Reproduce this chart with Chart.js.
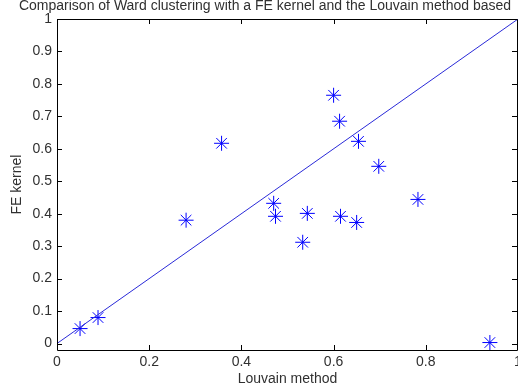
<!DOCTYPE html>
<html>
<head>
<meta charset="utf-8">
<script src="https://cdn.jsdelivr.net/npm/chart.js@4/dist/chart.umd.min.js"></script>
<style>
  html, body { margin: 0; padding: 0; background: #fff; }
  canvas { display: block; }
</style>
</head>
<body>
<canvas id="c" width="518" height="388"></canvas>
<script>
// data
const louvain  = [0.050, 0.089, 0.280, 0.357, 0.470, 0.474, 0.543, 0.533, 0.600, 0.613, 0.615, 0.650, 0.654, 0.698, 0.783, 0.939];
const feKernel = [0.046, 0.080, 0.380, 0.617, 0.432, 0.392, 0.401, 0.312, 0.765, 0.685, 0.392, 0.373, 0.623, 0.546, 0.444, 0.003];
const diagonalX = [0, 1];
const diagonalY = [0, 1];
const xTicks = [0, 0.2, 0.4, 0.6, 0.8, 1];
const yTicks = [0, 0.1, 0.2, 0.3, 0.4, 0.5, 0.6, 0.7, 0.8, 0.9, 1];
const titleText = 'Comparison of Ward clustering with a FE kernel and the Louvain method based';
const xLabel = 'Louvain method';
const yLabel = 'FE kernel';

const FONT = "'Liberation Sans', Arial, sans-serif";
Chart.defaults.font.family = FONT;
Chart.defaults.font.size = 14;
Chart.defaults.color = '#303030';

// matlab style box with inward ticks on all sides
const boxPlugin = {
    id: 'boxPlugin',
    afterDraw(chart) {
        const ctx = chart.ctx;
        const a = chart.chartArea;
        const xs = chart.scales.x, ys = chart.scales.y;
        const len = 5;
        const right = Math.min(a.right, chart.width) - 1;
        ctx.save();
        ctx.strokeStyle = '#000';
        ctx.lineWidth = 1;
        ctx.beginPath();
        ctx.rect(Math.round(a.left) + 0.5, Math.round(a.top) + 0.5,
                 Math.round(right - a.left), Math.round(a.bottom - a.top));
        xTicks.forEach(v => {
            const px = Math.round(xs.getPixelForValue(v)) + 0.5;
            ctx.moveTo(px, a.bottom); ctx.lineTo(px, a.bottom - len);
            ctx.moveTo(px, a.top); ctx.lineTo(px, a.top + len);
        });
        yTicks.forEach(v => {
            const py = Math.round(ys.getPixelForValue(v)) + 0.5;
            ctx.moveTo(a.left, py); ctx.lineTo(a.left + len, py);
            ctx.moveTo(right, py); ctx.lineTo(right - len, py);
        });
        ctx.stroke();

        // title
        ctx.fillStyle = '#303030';
        ctx.font = '14px ' + FONT;
        ctx.textAlign = 'center';
        ctx.textBaseline = 'middle';
        ctx.fillText(titleText, 265, 6);
        ctx.restore();
    }
};

new Chart(document.getElementById('c'), {
    type: 'scatter',
    data: {
        datasets: [{
            type: 'line',
            data: diagonalX.map((x, i) => ({ x: x, y: diagonalY[i] })),
            borderColor: '#2a2ad8',
            borderWidth: 1,
            pointRadius: 0,
            fill: false
        }, {
            data: louvain.map((x, i) => ({ x: x, y: feKernel[i] })),
            pointStyle: 'star',
            pointRadius: 7.5,
            borderColor: '#0000ff',
            backgroundColor: '#0000ff',
            borderWidth: 1,
            clip: false
        }]
    },
    options: {
        responsive: false,
        animation: false,
        events: [],
        layout: { autoPadding: false, padding: { top: 19, right: 0, left: 0, bottom: 0 } },
        plugins: {
            legend: { display: false },
            tooltip: { enabled: false }
        },
        scales: {
            x: {
                type: 'linear',
                min: 0,
                max: 1,
                afterBuildTicks: s => { s.ticks = xTicks.map(v => ({ value: v })); },
                afterFit: s => { s.height = 38; s.paddingLeft = 0; s.paddingRight = 0; },
                grid: { display: false, drawTicks: false },
                border: { display: false },
                ticks: { padding: 4, maxRotation: 0, autoSkip: false, callback: v => String(v) },
                title: { display: true, text: xLabel, padding: { top: 0, bottom: 0 } }
            },
            y: {
                type: 'linear',
                min: -0.02,
                max: 1,
                afterBuildTicks: s => { s.ticks = yTicks.map(v => ({ value: v })); },
                afterFit: s => { s.width = 57; s.paddingTop = 0; s.paddingBottom = 0; },
                grid: { display: false, drawTicks: false },
                border: { display: false },
                ticks: { padding: 5, autoSkip: false, callback: v => String(v) },
                title: { display: true, text: yLabel, padding: { top: 8.5, bottom: 8.5 } }
            }
        }
    },
    plugins: [boxPlugin]
});
</script>
</body>
</html>
